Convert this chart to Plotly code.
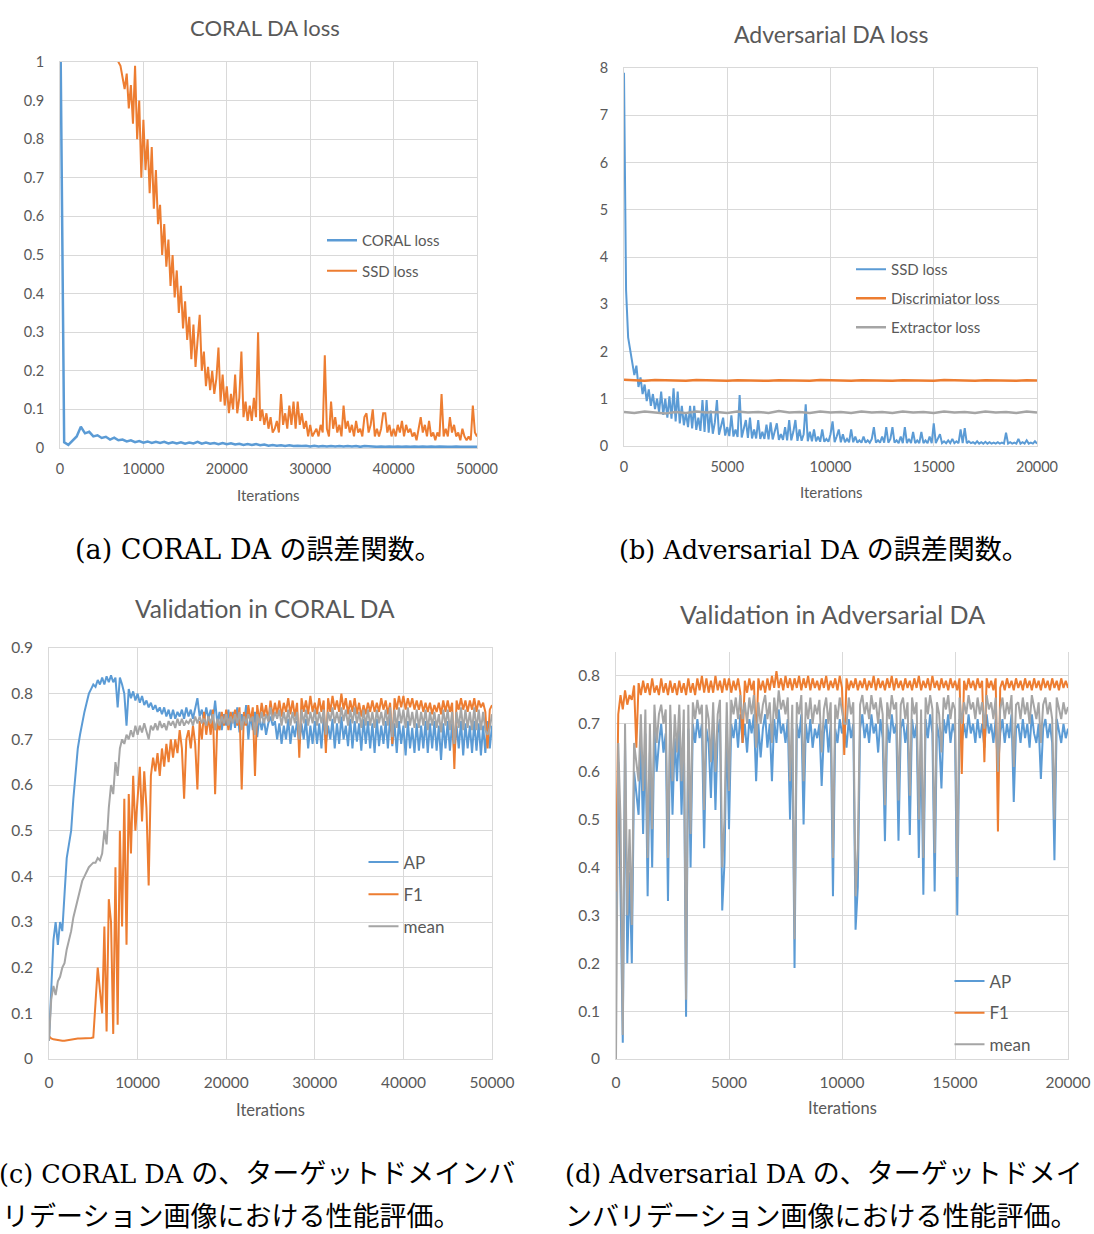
import plotly.graph_objects as go

# ---------------- data ----------------
# (a) CORAL DA loss, x = iterations
A_SSD_STEP = 250
a_ssd_loss = [2.6, 2.5, 2.4, 2.3,
              2.2, 2.12, 2.05, 1.98,
              1.9, 1.84, 1.78, 1.72,
              1.66, 1.6, 1.55, 1.5,
              1.45, 1.4, 1.36, 1.32,
              1.28, 1.24, 1.2, 1.16,
              1.13, 1.1, 1.07, 1.04,
              1.0, 0.99, 0.96, 0.93,
              0.97, 0.88, 0.94, 0.84,
              0.99, 0.80, 0.90, 0.70,
              0.85, 0.72, 0.80, 0.66,
              0.78, 0.62, 0.72, 0.58,
              0.63, 0.50, 0.58, 0.47,
              0.54, 0.42, 0.50, 0.39,
              0.46, 0.35, 0.42, 0.31,
              0.38, 0.28, 0.34, 0.23,
              0.32, 0.21, 0.28, 0.345,
              0.20, 0.25, 0.16, 0.21,
              0.15, 0.20, 0.14, 0.18,
              0.26, 0.12, 0.19, 0.11,
              0.16, 0.09, 0.14, 0.10,
              0.19, 0.09, 0.13, 0.25,
              0.08, 0.12, 0.07, 0.11,
              0.07, 0.13, 0.08, 0.30,
              0.07, 0.10, 0.06, 0.09,
              0.05, 0.08, 0.04, 0.05,
              0.07, 0.04, 0.14, 0.06,
              0.09, 0.05, 0.11, 0.06,
              0.12, 0.05, 0.12, 0.06,
              0.09, 0.05, 0.07, 0.03,
              0.06, 0.03, 0.04, 0.05,
              0.03, 0.06, 0.04, 0.24,
              0.05, 0.03, 0.12, 0.05,
              0.08, 0.04, 0.06, 0.03,
              0.11, 0.05, 0.07, 0.04,
              0.06, 0.03, 0.07, 0.04,
              0.05, 0.03, 0.08, 0.09,
              0.04, 0.06, 0.10, 0.03,
              0.05, 0.03, 0.05, 0.09,
              0.09, 0.04, 0.06, 0.03,
              0.05, 0.03, 0.06, 0.04,
              0.07, 0.03, 0.06, 0.04,
              0.05, 0.03, 0.04, 0.02,
              0.05, 0.08, 0.04, 0.06,
              0.03, 0.07, 0.03, 0.04,
              0.02, 0.04, 0.03, 0.14,
              0.03, 0.05, 0.03, 0.08,
              0.04, 0.06, 0.03, 0.04,
              0.02, 0.05, 0.03, 0.02,
              0.03, 0.02, 0.11, 0.04,
              0.03]

A_CORAL_STEP = 500
a_coral_loss = [1.2, .015, .008, .018, .03, .055, .038, .042, .03, .033,
                .026, .029, .022, .027, .02, .022, .017, .02, .015, .018,
                .014, .017, .013, .016, .013, .016, .012, .015, .012, .015,
                .011, .014, .012, .016, .011, .014, .011, .013, .01, .013,
                .01, .012, .009, .011, .008, .01, .008, .01, .007, .009,
                .006, .008, .006, .007, .005, .007, .005, .006, .005, .006,
                .004, .006, .004, .005, .004, .005, .004, .005, .004, .005,
                .004, .005, .003, .005, .004, .004, .003, .004, .003, .004,
                .003, .004, .003, .004, .003, .004, .003, .004, .003, .004,
                .003, .004, .003, .003, .003, .004, .003, .003, .003, .004,
                .003]

# (b) Adversarial DA loss
B_SSD_STEP = 100
b_ssd_loss = [7.9, 3.3, 2.3, 2.0, 1.75, 1.5, 1.7, 1.25, 1.45, 1.1,
              1.3, 0.95, 1.2, 0.85, 1.1, 0.78, 1.0, 0.72, 1.15, 0.66,
              1.0, 0.6, 1.05, 0.58, 1.22, 0.52, 1.15, 0.48, 0.85, 0.44,
              0.7, 0.4, 0.85, 0.37, 0.85, 0.34, 0.6, 0.32, 0.97, 0.3,
              0.97, 0.28, 0.75, 0.26, 0.5, 0.97, 0.24, 0.45, 0.6, 0.22,
              0.4, 0.21, 0.65, 0.2, 0.35, 0.19, 1.08, 0.18, 0.4, 0.55,
              0.17, 0.6, 0.16, 0.35, 0.16, 0.55, 0.15, 0.3, 0.15, 0.45,
              0.14, 0.5, 0.14, 0.3, 0.48, 0.13, 0.25, 0.13, 0.4, 0.12,
              0.55, 0.12, 0.3, 0.55, 0.11, 0.35, 0.11, 0.25, 0.88, 0.1,
              0.3, 0.1, 0.35, 0.1, 0.2, 0.09, 0.35, 0.09, 0.15, 0.09,
              0.25, 0.52, 0.08, 0.2, 0.35, 0.08, 0.25, 0.08, 0.15, 0.08,
              0.35, 0.08, 0.2, 0.07, 0.12, 0.07, 0.2, 0.07, 0.12, 0.07,
              0.15, 0.4, 0.07, 0.12, 0.07, 0.2, 0.07, 0.4, 0.07, 0.15,
              0.4, 0.07, 0.12, 0.06, 0.2, 0.06, 0.4, 0.06, 0.15, 0.06,
              0.3, 0.06, 0.12, 0.06, 0.3, 0.06, 0.12, 0.06, 0.2, 0.06,
              0.48, 0.06, 0.15, 0.25, 0.06, 0.1, 0.06, 0.12, 0.06, 0.15,
              0.06, 0.1, 0.06, 0.35, 0.06, 0.38, 0.06, 0.1, 0.06, 0.08,
              0.05, 0.1, 0.05, 0.08, 0.05, 0.09, 0.05, 0.08, 0.05, 0.07,
              0.05, 0.08, 0.05, 0.07, 0.05, 0.28, 0.05, 0.08, 0.05, 0.07,
              0.05, 0.15, 0.05, 0.08, 0.05, 0.12, 0.05, 0.07, 0.05, 0.1,
              0.05]

B_FLAT_STEP = 500
b_disc_loss = [1.40, 1.39, 1.38, 1.395, 1.385, 1.39, 1.38, 1.395, 1.385, 1.39,
               1.38, 1.39, 1.385, 1.395, 1.38, 1.39, 1.385, 1.39, 1.38, 1.395,
               1.385, 1.39, 1.38, 1.39, 1.385, 1.395, 1.38, 1.39, 1.385, 1.39,
               1.38, 1.395, 1.385, 1.39, 1.38, 1.39, 1.385, 1.395, 1.38, 1.39,
               1.385]
b_extr_loss = [0.72, 0.70, 0.73, 0.71, 0.69, 0.72, 0.70, 0.73, 0.71, 0.72,
               0.70, 0.73, 0.71, 0.72, 0.70, 0.74, 0.71, 0.72, 0.70, 0.73,
               0.71, 0.72, 0.70, 0.73, 0.71, 0.72, 0.70, 0.73, 0.71, 0.72,
               0.70, 0.73, 0.71, 0.72, 0.70, 0.73, 0.71, 0.72, 0.70, 0.73,
               0.71]

# (c) Validation in CORAL DA
C_STEP = 250
c_ap = [0.04, 0.15, 0.26, 0.30,
        0.25, 0.30, 0.28, 0.36,
        0.44, 0.47, 0.50, 0.57,
        0.63, 0.68, 0.71, 0.74,
        0.76, 0.78, 0.80, 0.81,
        0.82, 0.815, 0.83, 0.82,
        0.835, 0.82, 0.838, 0.825,
        0.84, 0.825, 0.835, 0.77,
        0.835, 0.82, 0.80, 0.73,
        0.81, 0.79, 0.805, 0.785,
        0.80, 0.78, 0.795, 0.775,
        0.785, 0.77, 0.78, 0.765,
        0.775, 0.76, 0.77, 0.755,
        0.77, 0.75, 0.765, 0.745,
        0.765, 0.745, 0.76, 0.75,
        0.765, 0.745, 0.77, 0.75,
        0.765, 0.745, 0.77, 0.79,
        0.75, 0.765, 0.74, 0.77,
        0.745, 0.765, 0.74, 0.785,
        0.735, 0.76, 0.72, 0.755,
        0.73, 0.765, 0.72, 0.76,
        0.725, 0.77, 0.715, 0.755,
        0.73, 0.775, 0.70, 0.755,
        0.72, 0.76, 0.705, 0.75,
        0.72, 0.745, 0.71, 0.735,
        0.75, 0.73, 0.74, 0.70,
        0.735, 0.69, 0.73, 0.70,
        0.745, 0.69, 0.73, 0.705,
        0.74, 0.69, 0.735, 0.70,
        0.745, 0.68, 0.73, 0.69,
        0.74, 0.69, 0.735, 0.68,
        0.75, 0.69, 0.73, 0.70,
        0.745, 0.68, 0.735, 0.69,
        0.75, 0.70, 0.73, 0.685,
        0.745, 0.68, 0.74, 0.695,
        0.735, 0.675, 0.745, 0.69,
        0.74, 0.68, 0.735, 0.67,
        0.745, 0.685, 0.73, 0.69,
        0.74, 0.68, 0.75, 0.685,
        0.735, 0.67, 0.74, 0.69,
        0.73, 0.665, 0.74, 0.68,
        0.725, 0.67, 0.735, 0.675,
        0.73, 0.68, 0.74, 0.67,
        0.735, 0.68, 0.74, 0.675,
        0.73, 0.655, 0.735, 0.68,
        0.74, 0.675, 0.735, 0.67,
        0.73, 0.68, 0.74, 0.665,
        0.735, 0.68, 0.73, 0.67,
        0.74, 0.675, 0.735, 0.665,
        0.73, 0.67, 0.74, 0.68,
        0.73]
c_f1 = [0.05, 0.045, 0.043, 0.042,
        0.041, 0.04, 0.04, 0.04,
        0.041, 0.042, 0.043, 0.044,
        0.044, 0.045, 0.045, 0.045,
        0.045, 0.046, 0.046, 0.046,
        0.047, 0.12, 0.2, 0.15,
        0.1, 0.29, 0.06, 0.35,
        0.3, 0.055, 0.42, 0.075,
        0.5, 0.29, 0.57, 0.25,
        0.58, 0.45, 0.62, 0.50,
        0.58, 0.64, 0.52, 0.63,
        0.55, 0.38, 0.62, 0.66,
        0.63, 0.67, 0.62, 0.68,
        0.64, 0.69, 0.65, 0.70,
        0.66, 0.70, 0.67, 0.72,
        0.68, 0.57, 0.70, 0.72,
        0.68, 0.73, 0.69, 0.59,
        0.74, 0.70, 0.76, 0.71,
        0.75, 0.71, 0.765, 0.58,
        0.74, 0.72, 0.76, 0.73,
        0.765, 0.72, 0.76, 0.74,
        0.765, 0.73, 0.77, 0.59,
        0.76, 0.73, 0.775, 0.74,
        0.77, 0.62, 0.775, 0.74,
        0.78, 0.75, 0.775, 0.74,
        0.785, 0.75, 0.78, 0.755,
        0.785, 0.75, 0.78, 0.76,
        0.79, 0.755, 0.785, 0.75,
        0.78, 0.66, 0.79, 0.76,
        0.785, 0.755, 0.795, 0.76,
        0.78, 0.755, 0.79, 0.76,
        0.785, 0.67, 0.79, 0.76,
        0.795, 0.765, 0.785, 0.76,
        0.80, 0.765, 0.79, 0.755,
        0.785, 0.76, 0.79, 0.755,
        0.78, 0.75, 0.775, 0.755,
        0.78, 0.76, 0.785, 0.76,
        0.78, 0.76, 0.79, 0.765,
        0.785, 0.755, 0.78, 0.69,
        0.79, 0.765, 0.795, 0.77,
        0.795, 0.765, 0.79, 0.77,
        0.79, 0.765, 0.785, 0.765,
        0.785, 0.76, 0.78, 0.76,
        0.78, 0.755, 0.775, 0.76,
        0.78, 0.755, 0.785, 0.76,
        0.785, 0.76, 0.78, 0.635,
        0.785, 0.765, 0.79, 0.765,
        0.785, 0.76, 0.785, 0.765,
        0.79, 0.76, 0.785, 0.77,
        0.78, 0.76, 0.68, 0.765,
        0.775]
c_mean = [0.04, 0.13, 0.16, 0.14,
          0.17, 0.18, 0.2, 0.21,
          0.24, 0.26, 0.28, 0.31,
          0.33, 0.35, 0.37, 0.39,
          0.40, 0.41, 0.42, 0.425,
          0.43, 0.43, 0.44, 0.435,
          0.45, 0.50, 0.47, 0.55,
          0.60, 0.58, 0.65, 0.62,
          0.68, 0.70, 0.69, 0.71,
          0.70, 0.72, 0.705, 0.73,
          0.71, 0.73, 0.715, 0.735,
          0.72, 0.70, 0.73, 0.72,
          0.735, 0.72, 0.74, 0.725,
          0.735, 0.72, 0.74, 0.73,
          0.74, 0.725, 0.745, 0.73,
          0.745, 0.73, 0.74, 0.735,
          0.745, 0.73, 0.75, 0.735,
          0.75, 0.735, 0.745, 0.73,
          0.75, 0.735, 0.755, 0.72,
          0.745, 0.73, 0.75, 0.735,
          0.755, 0.73, 0.75, 0.735,
          0.755, 0.735, 0.76, 0.72,
          0.75, 0.735, 0.755, 0.74,
          0.75, 0.71, 0.755, 0.735,
          0.76, 0.735, 0.755, 0.74,
          0.77, 0.74, 0.76, 0.745,
          0.765, 0.73, 0.76, 0.735,
          0.765, 0.73, 0.76, 0.735,
          0.76, 0.70, 0.765, 0.735,
          0.765, 0.73, 0.76, 0.735,
          0.765, 0.73, 0.76, 0.735,
          0.765, 0.71, 0.76, 0.74,
          0.77, 0.735, 0.76, 0.735,
          0.77, 0.74, 0.765, 0.73,
          0.765, 0.735, 0.77, 0.735,
          0.76, 0.725, 0.765, 0.73,
          0.765, 0.73, 0.76, 0.725,
          0.765, 0.735, 0.76, 0.73,
          0.765, 0.73, 0.77, 0.705,
          0.765, 0.725, 0.77, 0.735,
          0.765, 0.725, 0.77, 0.73,
          0.76, 0.725, 0.765, 0.725,
          0.76, 0.73, 0.765, 0.72,
          0.76, 0.73, 0.76, 0.725,
          0.755, 0.715, 0.765, 0.73,
          0.765, 0.72, 0.76, 0.69,
          0.76, 0.725, 0.77, 0.72,
          0.765, 0.725, 0.76, 0.72,
          0.77, 0.72, 0.765, 0.72,
          0.76, 0.72, 0.71, 0.725,
          0.755]

# (d) Validation in Adversarial DA
D_STEP = 100
d_ap = [0.26, 0.62, 0.35, 0.034, 0.66, 0.20, 0.39, 0.20, 0.60, 0.55,
        0.51, 0.66, 0.47, 0.68, 0.34, 0.64, 0.40, 0.69, 0.60, 0.66,
        0.70, 0.64, 0.68, 0.33, 0.70, 0.51, 0.67, 0.58, 0.70, 0.51,
        0.68, 0.088, 0.69, 0.40, 0.70, 0.66, 0.71, 0.67, 0.70, 0.44,
        0.69, 0.66, 0.545, 0.70, 0.52, 0.68, 0.71, 0.31, 0.41, 0.70,
        0.48, 0.70, 0.67, 0.71, 0.65, 0.72, 0.66, 0.70, 0.64, 0.71,
        0.68, 0.72, 0.58, 0.70, 0.63, 0.69, 0.72, 0.65, 0.70, 0.58,
        0.71, 0.66, 0.73, 0.68, 0.70, 0.66, 0.71, 0.50, 0.69, 0.19,
        0.70, 0.67, 0.72, 0.49, 0.70, 0.66, 0.71, 0.65, 0.69, 0.67,
        0.70, 0.57, 0.68, 0.71, 0.64, 0.70, 0.34, 0.69, 0.66, 0.71,
        0.68, 0.70, 0.65, 0.71, 0.67, 0.70, 0.27, 0.36, 0.69, 0.72,
        0.67, 0.70, 0.66, 0.72, 0.68, 0.70, 0.64, 0.71, 0.67, 0.455,
        0.70, 0.66, 0.72, 0.68, 0.70, 0.456, 0.69, 0.71, 0.66, 0.70,
        0.468, 0.71, 0.67, 0.70, 0.42, 0.68, 0.343, 0.71, 0.67, 0.72,
        0.68, 0.35, 0.70, 0.67, 0.565, 0.71, 0.68, 0.72, 0.66, 0.70,
        0.68, 0.30, 0.71, 0.66, 0.70, 0.67, 0.72, 0.68, 0.70, 0.66,
        0.71, 0.67, 0.70, 0.65, 0.72, 0.68, 0.70, 0.66, 0.71, 0.60,
        0.68, 0.71, 0.66, 0.70, 0.67, 0.72, 0.537, 0.69, 0.70, 0.66,
        0.71, 0.67, 0.70, 0.65, 0.72, 0.68, 0.66, 0.70, 0.585, 0.69,
        0.71, 0.67, 0.70, 0.66, 0.415, 0.71, 0.68, 0.66, 0.70, 0.67,
        0.69]
d_f1 = [0.35, 0.72, 0.76, 0.73, 0.77, 0.74, 0.76, 0.75, 0.78, 0.65,
        0.785, 0.76, 0.79, 0.765, 0.785, 0.76, 0.795, 0.765, 0.78, 0.76,
        0.795, 0.765, 0.785, 0.76, 0.79, 0.765, 0.785, 0.76, 0.79, 0.765,
        0.785, 0.76, 0.795, 0.765, 0.785, 0.76, 0.795, 0.77, 0.80, 0.765,
        0.795, 0.765, 0.79, 0.765, 0.80, 0.77, 0.79, 0.765, 0.795, 0.77,
        0.795, 0.765, 0.79, 0.77, 0.795, 0.765, 0.66, 0.79, 0.765, 0.795,
        0.77, 0.79, 0.66, 0.795, 0.77, 0.79, 0.765, 0.795, 0.77, 0.80,
        0.775, 0.81, 0.775, 0.795, 0.77, 0.80, 0.775, 0.795, 0.77, 0.795,
        0.775, 0.80, 0.77, 0.795, 0.775, 0.80, 0.77, 0.795, 0.775, 0.79,
        0.77, 0.795, 0.775, 0.80, 0.77, 0.79, 0.775, 0.795, 0.77, 0.80,
        0.775, 0.635, 0.795, 0.77, 0.79, 0.775, 0.795, 0.77, 0.79, 0.775,
        0.795, 0.77, 0.79, 0.775, 0.80, 0.77, 0.795, 0.775, 0.79, 0.77,
        0.795, 0.775, 0.80, 0.77, 0.795, 0.775, 0.79, 0.77, 0.795, 0.775,
        0.79, 0.77, 0.795, 0.775, 0.80, 0.77, 0.79, 0.775, 0.795, 0.77,
        0.80, 0.775, 0.79, 0.77, 0.795, 0.775, 0.79, 0.77, 0.795, 0.775,
        0.79, 0.77, 0.795, 0.595, 0.79, 0.77, 0.795, 0.775, 0.79, 0.77,
        0.795, 0.775, 0.79, 0.62, 0.795, 0.775, 0.79, 0.77, 0.795, 0.475,
        0.775, 0.79, 0.77, 0.795, 0.775, 0.79, 0.77, 0.795, 0.775, 0.79,
        0.77, 0.795, 0.775, 0.79, 0.77, 0.795, 0.775, 0.79, 0.77, 0.795,
        0.775, 0.79, 0.77, 0.795, 0.775, 0.79, 0.77, 0.795, 0.775, 0.79,
        0.775]
d_mean = [0.0, 0.66, 0.50, 0.05, 0.70, 0.30, 0.48, 0.28, 0.66, 0.62,
          0.58, 0.72, 0.56, 0.73, 0.42, 0.70, 0.48, 0.74, 0.66, 0.72,
          0.74, 0.70, 0.73, 0.42, 0.74, 0.58, 0.72, 0.64, 0.74, 0.58,
          0.73, 0.124, 0.74, 0.47, 0.745, 0.71, 0.75, 0.72, 0.74, 0.52,
          0.74, 0.71, 0.62, 0.745, 0.60, 0.72, 0.75, 0.40, 0.50, 0.745,
          0.56, 0.75, 0.72, 0.755, 0.71, 0.76, 0.71, 0.745, 0.70, 0.755,
          0.72, 0.76, 0.65, 0.745, 0.70, 0.74, 0.76, 0.71, 0.745, 0.66,
          0.755, 0.71, 0.77, 0.73, 0.75, 0.72, 0.755, 0.58, 0.74, 0.25,
          0.745, 0.72, 0.76, 0.58, 0.745, 0.71, 0.755, 0.70, 0.74, 0.72,
          0.75, 0.64, 0.73, 0.755, 0.70, 0.745, 0.42, 0.74, 0.71, 0.755,
          0.73, 0.70, 0.70, 0.755, 0.72, 0.745, 0.34, 0.44, 0.74, 0.76,
          0.72, 0.745, 0.71, 0.76, 0.73, 0.745, 0.70, 0.755, 0.72, 0.53,
          0.745, 0.71, 0.76, 0.73, 0.745, 0.54, 0.74, 0.755, 0.71, 0.745,
          0.55, 0.755, 0.72, 0.745, 0.50, 0.73, 0.42, 0.755, 0.72, 0.76,
          0.73, 0.43, 0.745, 0.72, 0.64, 0.755, 0.73, 0.76, 0.71, 0.745,
          0.73, 0.38, 0.755, 0.70, 0.745, 0.72, 0.76, 0.73, 0.745, 0.71,
          0.755, 0.72, 0.745, 0.69, 0.76, 0.73, 0.745, 0.71, 0.755, 0.60,
          0.73, 0.755, 0.71, 0.745, 0.72, 0.76, 0.61, 0.74, 0.745, 0.71,
          0.755, 0.72, 0.745, 0.70, 0.76, 0.73, 0.71, 0.745, 0.66, 0.74,
          0.755, 0.72, 0.745, 0.71, 0.50, 0.755, 0.73, 0.71, 0.745, 0.72,
          0.735]

# tick values
ticks_x_50k = [0, 10000, 20000, 30000, 40000, 50000]
ticks_x_20k = [0, 5000, 10000, 15000, 20000]
ticks_y_a = [0, 0.1, 0.2, 0.3, 0.4, 0.5, 0.6, 0.7, 0.8, 0.9, 1]
ticks_y_b = [0, 1, 2, 3, 4, 5, 6, 7, 8]
ticks_y_c = [0, 0.1, 0.2, 0.3, 0.4, 0.5, 0.6, 0.7, 0.8, 0.9]
ticks_y_d = [0, 0.1, 0.2, 0.3, 0.4, 0.5, 0.6, 0.7, 0.8]

titles = ["CORAL DA loss", "Adversarial DA loss",
          "Validation in CORAL DA", "Validation in Adversarial DA"]
x_title = "Iterations"
# captions: (latin part, japanese part)
caption_a = ("(a) CORAL DA ", "の誤差関数。")
caption_b = ("(b) Adversarial DA ", "の誤差関数。")
caption_c1 = ("(c) CORAL DA ", "の、ターゲットドメインバ")
caption_c2 = ("", "リデーション画像における性能評価。")
caption_d1 = ("(d) Adversarial DA ", "の、ターゲットドメイ")
caption_d2 = ("", "ンバリデーション画像における性能評価。")

# ---------------- styling ----------------
W, H = 1094, 1234
BLUE, ORANGE, GRAY = "#5B9BD5", "#ED7D31", "#A5A5A5"
TXT = "#595959"
GRID = "#D9D9D9"
FONT = "Lato"
CAP_FONT = "DejaVu Serif, Noto Sans CJK JP"


def fx(p):
    return p / W


def fy(p):
    return 1 - p / H


def xs(values, step):
    return [i * step for i in range(len(values))]


fig = go.Figure()


def add(values, step, name, color, ax, legend, group, width=2):
    fig.add_trace(go.Scatter(
        x=xs(values, step), y=values, mode="lines", name=name,
        line=dict(color=color, width=width),
        xaxis="x" + ax, yaxis="y" + ax, legend=legend, legendgroup=group,
        hoverinfo="skip"))


add(a_coral_loss, A_CORAL_STEP, "CORAL loss", BLUE, "", "legend", "a1", 2.5)
add(a_ssd_loss, A_SSD_STEP, "SSD loss", ORANGE, "", "legend", "a2")
add(b_ssd_loss, B_SSD_STEP, "SSD loss", BLUE, "2", "legend2", "b1")
add(b_disc_loss, B_FLAT_STEP, "Discrimiator loss", ORANGE, "2", "legend2", "b2", 2.5)
add(b_extr_loss, B_FLAT_STEP, "Extractor loss", GRAY, "2", "legend2", "b3", 2.5)
add(c_ap, C_STEP, "AP", BLUE, "3", "legend3", "c1")
add(c_f1, C_STEP, "F1", ORANGE, "3", "legend3", "c2")
add(c_mean, C_STEP, "mean", GRAY, "3", "legend3", "c3")
add(d_ap, D_STEP, "AP", BLUE, "4", "legend4", "d1")
add(d_f1, D_STEP, "F1", ORANGE, "4", "legend4", "d2")
add(d_mean, D_STEP, "mean", GRAY, "4", "legend4", "d3")


def xaxis(dom, rng, tv, anchor, mirror, fsize, standoff):
    return dict(domain=[fx(dom[0]), fx(dom[1])], range=rng, tickvals=tv,
                tickformat="d", anchor=anchor, showgrid=True, gridcolor=GRID,
                gridwidth=1, showline=True, linecolor=GRID, linewidth=1,
                mirror=mirror, zeroline=False, ticks="", automargin=False,
                tickfont=dict(family=FONT, size=fsize, color=TXT),
                ticklabelstandoff=standoff, fixedrange=True)


def yaxis(dom, rng, tv, anchor, fsize):
    return dict(domain=[fy(dom[1]), fy(dom[0])], range=rng, tickvals=tv,
                anchor=anchor, showgrid=True, gridcolor=GRID, gridwidth=1,
                showline=True, linecolor=GRID, linewidth=1, mirror=True,
                zeroline=False, ticks="", automargin=False,
                tickfont=dict(family=FONT, size=fsize, color=TXT),
                ticklabelstandoff=12, fixedrange=True)


def legend(x, y, gap, fsize):
    return dict(x=fx(x), y=fy(y), xanchor="left", yanchor="top",
                bgcolor="rgba(0,0,0,0)", itemwidth=30, tracegroupgap=gap,
                font=dict(family=FONT, size=fsize, color=TXT))


annotations = []


def text(s, x, y, size, color=TXT, family=FONT, xanchor="center",
         yanchor="middle"):
    annotations.append(dict(text=s, x=fx(x), y=fy(y), xref="paper",
                            yref="paper", showarrow=False, xanchor=xanchor,
                            yanchor=yanchor,
                            font=dict(family=family, size=size, color=color)))


def caption(parts, x, y, xanchor, latin_size=25.5, yanchor="middle"):
    latin, jp = parts
    s = (f'<span style="font-size:{latin_size}px">{latin}</span>' if latin else "") + jp
    text(s, x, y, 27, "#000000", CAP_FONT, xanchor, yanchor)


text(titles[0], 265, 27, 22)
text(titles[1], 831, 34, 23)
text(titles[2], 265, 609, 24.5)
text(titles[3], 832, 614, 25)
text(x_title, 268, 495, 15)
text(x_title, 831, 492, 15)
text(x_title, 270, 1110, 16.5)
text(x_title, 842, 1108, 16.5)
caption(caption_a, 258, 550, "center", 27)
caption(caption_b, 824, 550, "center")
caption(caption_c1, -3, 1173, "left")
caption(caption_c2, 0, 1234, "left", yanchor="bottom")
caption(caption_d1, 563, 1173, "left")
caption(caption_d2, 563, 1234, "left", yanchor="bottom")

fig.update_layout(
    width=W, height=H, margin=dict(l=0, r=0, t=0, b=0, autoexpand=False),
    paper_bgcolor="white", plot_bgcolor="white", showlegend=True,
    xaxis=xaxis((60, 477), [0, 50000], ticks_x_50k, "y", True, 14.5, 8),
    yaxis=yaxis((62, 448), [0, 1], ticks_y_a, "x", 14.5),
    xaxis2=xaxis((624, 1037), [0, 20000], ticks_x_20k, "y2", True, 14.5, 8),
    yaxis2=yaxis((68, 446), [0, 8], ticks_y_b, "x2", 14.5),
    xaxis3=xaxis((49, 492), [0, 50000], ticks_x_50k, "y3", True, 15.5, 9),
    yaxis3=yaxis((648, 1059), [0, 0.9], ticks_y_c, "x3", 15.5),
    xaxis4=xaxis((616, 1068), [0, 20000], ticks_x_20k, "y4", False, 15.5, 9),
    yaxis4=yaxis((652, 1059), [0, 0.85], ticks_y_d, "x4", 15.5),
    legend=legend(322, 224, 8, 15),
    legend2=legend(851, 253, 6.5, 15),
    legend3=legend(363.5, 844.5, 7, 17),
    legend4=legend(949.5, 963.5, 6.5, 17),
    annotations=annotations,
)

# remove the browser's default 8px page margin so the figure fills the window
fig.write_html("out.html",
               config={"displayModeBar": False},
               post_script="document.body.style.margin='0px';"
                           "document.body.style.overflow='hidden';")
